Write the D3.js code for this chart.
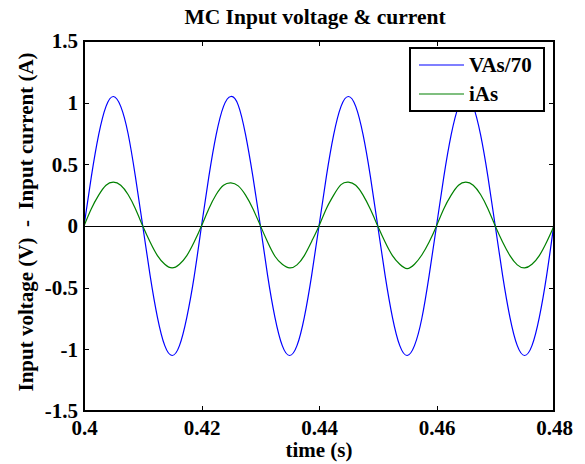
<!DOCTYPE html>
<html>
<head>
<meta charset="utf-8">
<script src="https://cdn.jsdelivr.net/npm/d3@7"></script>
<style>
  html, body { margin: 0; padding: 0; background: #fff; }
</style>
</head>
<body>
<div id="chart"></div>
<script>
// sample times (s)
const time = [
  0.4, 0.40125, 0.4025, 0.40375, 0.405, 0.40625, 0.4075, 0.40875,
  0.41, 0.41125, 0.4125, 0.41375, 0.415, 0.41625, 0.4175, 0.41875,
  0.42, 0.42125, 0.4225, 0.42375, 0.425, 0.42625, 0.4275, 0.42875,
  0.43, 0.43125, 0.4325, 0.43375, 0.435, 0.43625, 0.4375, 0.43875,
  0.44, 0.44125, 0.4425, 0.44375, 0.445, 0.44625, 0.4475, 0.44875,
  0.45, 0.45125, 0.4525, 0.45375, 0.455, 0.45625, 0.4575, 0.45875,
  0.46, 0.46125, 0.4625, 0.46375, 0.465, 0.46625, 0.4675, 0.46875,
  0.47, 0.47125, 0.4725, 0.47375, 0.475, 0.47625, 0.4775, 0.47875,
  0.48
];

// VAs / 70
const vas = [
  0.00, 0.40, 0.74, 0.97, 1.05, 0.97, 0.75, 0.40,
  0.00, -0.40, -0.74, -0.97, -1.05, -0.97, -0.74, -0.41,
  0.00, 0.40, 0.74, 0.97, 1.05, 0.98, 0.74, 0.40,
  0.01, -0.40, -0.74, -0.97, -1.05, -0.97, -0.74, -0.40,
  0.00, 0.40, 0.74, 0.97, 1.05, 0.97, 0.74, 0.40,
  0.00, -0.40, -0.74, -0.97, -1.05, -0.97, -0.75, -0.40,
  0.00, 0.40, 0.74, 0.97, 1.05, 0.97, 0.74, 0.40,
  0.00, -0.40, -0.74, -0.97, -1.05, -0.97, -0.74, -0.40,
  0.02
];

// iAs
const ias = [
  0.00, 0.14, 0.25, 0.33, 0.355, 0.33, 0.255, 0.14,
  0.00, -0.13, -0.24, -0.31, -0.34, -0.31, -0.24, -0.13,
  0.00, 0.14, 0.255, 0.33, 0.35, 0.325, 0.25, 0.14,
  0.005, -0.13, -0.245, -0.31, -0.34, -0.315, -0.24, -0.125,
  0.00, 0.14, 0.25, 0.335, 0.355, 0.33, 0.25, 0.135,
  0.00, -0.13, -0.24, -0.31, -0.345, -0.31, -0.235, -0.13,
  0.00, 0.14, 0.25, 0.33, 0.355, 0.33, 0.255, 0.14,
  0.00, -0.13, -0.24, -0.315, -0.34, -0.31, -0.24, -0.13,
  0.00
];

const xTicks = [0.4, 0.42, 0.44, 0.46, 0.48];
const yTicks = [-1.5, -1, -0.5, 0, 0.5, 1, 1.5];
const seriesNames = ["VAs/70", "iAs"];
const seriesColors = ["#0000ff", "#008000"];

const FONT = "'Liberation Serif', Tinos, 'Times New Roman', serif";

const W = 585, H = 464;
const margin = { top: 41, right: 31, bottom: 53, left: 84 };
const width = W - margin.left - margin.right;
const height = H - margin.top - margin.bottom;

const svg = d3.select("#chart").append("svg")
  .attr("width", W).attr("height", H);

const g = svg.append("g")
  .attr("transform", `translate(${margin.left},${margin.top})`);

const x = d3.scaleLinear().domain([0.4, 0.48]).range([0, width]);
const y = d3.scaleLinear().domain([-1.5, 1.5]).range([height, 0]);

const fmt = d => String(d);
const tickLen = 5;

// axes with inward ticks (matlab style)
g.append("g")
  .attr("transform", `translate(0,${height})`)
  .call(d3.axisBottom(x).tickValues(xTicks).tickFormat(fmt).tickSizeInner(-tickLen).tickSizeOuter(0).tickPadding(9))
  .call(a => a.select(".domain").remove());
g.append("g")
  .call(d3.axisTop(x).tickValues(xTicks).tickFormat("").tickSizeInner(-tickLen).tickSizeOuter(0))
  .call(a => a.select(".domain").remove());
g.append("g")
  .call(d3.axisLeft(y).tickValues(yTicks).tickFormat(fmt).tickSizeInner(-tickLen).tickSizeOuter(0).tickPadding(6))
  .call(a => a.select(".domain").remove());
g.append("g")
  .attr("transform", `translate(${width},0)`)
  .call(d3.axisRight(y).tickValues(yTicks).tickFormat("").tickSizeInner(-tickLen).tickSizeOuter(0))
  .call(a => a.select(".domain").remove());

g.selectAll(".tick text")
  .style("font-family", FONT)
  .style("font-weight", "bold")
  .style("font-size", "21px")
  .attr("fill", "#000");
g.selectAll(".tick line").attr("stroke", "#000").attr("shape-rendering", "crispEdges");

svg.append("clipPath").attr("id", "plotclip")
  .append("rect").attr("width", width).attr("height", height);

const plot = g.append("g").attr("clip-path", "url(#plotclip)");

// zero line
plot.append("line")
  .attr("x1", x(0.4)).attr("x2", x(0.48))
  .attr("y1", y(0)).attr("y2", y(0))
  .attr("stroke", "#000").attr("stroke-width", 1)
  .attr("shape-rendering", "crispEdges");

const line = d3.line()
  .x((d, i) => x(time[i]))
  .y(d => y(d))
  .curve(d3.curveNatural);

[vas, ias].forEach((s, k) => {
  plot.append("path")
    .datum(s)
    .attr("fill", "none")
    .attr("stroke", seriesColors[k])
    .attr("stroke-width", 1.2)
    .attr("d", line);
});

// box
g.append("rect")
  .attr("width", width).attr("height", height)
  .attr("fill", "none").attr("stroke", "#000").attr("stroke-width", 1.5)
  .attr("shape-rendering", "crispEdges");

function label(sel, size) {
  return sel.style("font-family", FONT).style("font-weight", "bold")
    .style("font-size", size + "px").attr("fill", "#000");
}

// legend
const lg = g.append("g").attr("transform", `translate(${410 - margin.left},${48 - margin.top})`);
lg.append("rect").attr("width", 134).attr("height", 63)
  .attr("fill", "#fff").attr("stroke", "#000").attr("stroke-width", 1.5)
  .attr("shape-rendering", "crispEdges");
seriesNames.forEach((name, k) => {
  const yy = 17 + k * 29;
  lg.append("line").attr("x1", 9).attr("x2", 54).attr("y1", yy).attr("y2", yy)
    .attr("stroke", seriesColors[k]).attr("stroke-width", 1.2);
  label(lg.append("text").attr("x", 59).attr("y", yy + 7), 21).text(name);
});

// title and labels
label(svg.append("text")
  .attr("x", 315).attr("y", 24)
  .attr("text-anchor", "middle"), 21.5)
  .text("MC Input voltage & current");

label(svg.append("text")
  .attr("x", margin.left + width / 2).attr("y", 457)
  .attr("text-anchor", "middle"), 21)
  .text("time (s)");

label(svg.append("text")
  .attr("transform", `translate(33,${margin.top + height / 2 - 4}) rotate(-90)`)
  .attr("text-anchor", "middle")
  .style("white-space", "pre"), 21)
  .text("Input voltage (V)  -  Input current (A)");
</script>
</body>
</html>
